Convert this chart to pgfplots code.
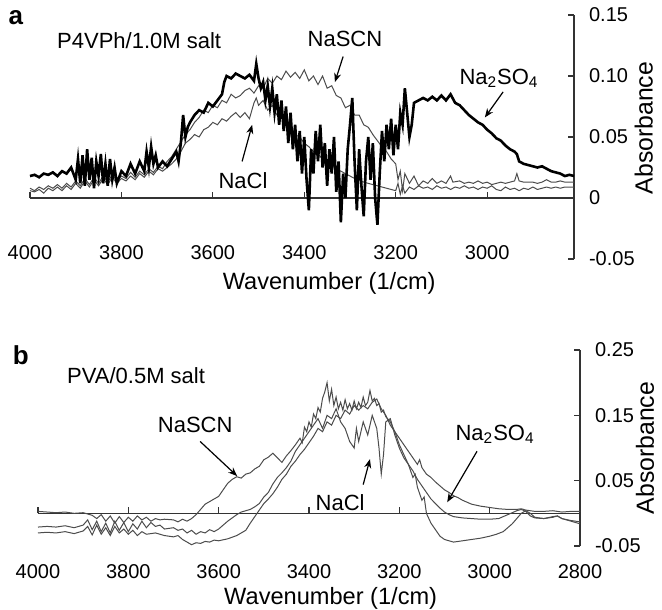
\documentclass[border=0pt]{standalone}
\usepackage{pgfplots}
\pgfplotsset{compat=1.18}
\usepackage{fontspec}
\setmainfont{Liberation Sans}
\usetikzlibrary{arrows.meta}

\pgfplotsset{
  spectrum/.style={
    scale only axis, enlargelimits=false, clip=false,
    x dir=reverse,
    axis x line=middle, axis y line=right,
    hide obscured x ticks=false, hide obscured y ticks=false,
    axis line style={-, black!80, line width=0.6pt},
    tick style={black!80, line width=0.6pt},
    tick align=inside, major tick length=3pt,
    ticklabel style={font=\fontsize{10}{11}\selectfont},
    yticklabel style={anchor=west, xshift=4pt},
    xticklabel style={anchor=center},
    xlabel style={font=\fontsize{11.8}{13}\selectfont, anchor=center},
    ylabel style={font=\fontsize{12.4}{14}\selectfont, anchor=center, rotate=0},
    xlabel={Wavenumber (1/cm)}, ylabel={Absorbance},
  },
}
\tikzset{
  lthin/.style={black!70, line width=0.5pt},
  lthick/.style={black, line width=1.3pt},
  note/.style={font=\fontsize{11}{13}\selectfont},
  arr/.style={-{Stealth[length=4.5pt, width=3.5pt]}, line width=0.6pt},
}

\begin{document}
\begin{tikzpicture}
\useasboundingbox (0,0) rectangle (331pt,-304.5pt);

% ---------------- panel a ----------------
\begin{axis}[spectrum,
  at={(15pt,-129.5pt)}, anchor=south west,
  width=272pt, height=122pt,
  xmin=2810, xmax=4000, ymin=-0.05, ymax=0.15,
  xtick={4000,3800,3600,3400,3200,3000},
  xticklabels={4000,3800,3600,3400,3200,3000},
  xticklabel style={yshift=-27.5pt},
  ytick={-0.05,0,0.05,0.1,0.15},
  yticklabels={-0.05,0,0.05,0.10,0.15},
  xlabel style={at={(axis description cs:0.55,-0.10)}},
  ylabel style={at={(axis description cs:1.128,0.537)}},
]
% NaCl
\addplot[lthin] coordinates {
(4000,0.006) (3990,0.005) (3980,0.007) (3970,0.004) (3960,0.008) (3950,0.006) (3940,0.009) (3930,0.006)
(3920,0.010) (3910,0.007) (3900,0.012) (3890,0.008) (3880,0.014) (3870,0.009) (3860,0.015) (3850,0.010)
(3840,0.016) (3830,0.011) (3820,0.017) (3810,0.012) (3800,0.016) (3790,0.014) (3780,0.018) (3770,0.015)
(3760,0.020) (3750,0.017) (3740,0.022) (3730,0.019) (3720,0.024) (3710,0.022) (3700,0.025) (3690,0.028)
(3680,0.032) (3670,0.038) (3660,0.045) (3650,0.048) (3640,0.052) (3630,0.050) (3620,0.056) (3610,0.058)
(3600,0.062) (3590,0.060) (3580,0.065) (3570,0.063) (3560,0.067) (3550,0.070) (3540,0.066) (3530,0.070)
(3520,0.065) (3510,0.078) (3505,0.082) (3500,0.076) (3490,0.080) (3480,0.072) (3470,0.076) (3460,0.068)
(3450,0.066) (3440,0.060) (3430,0.058) (3420,0.052) (3410,0.050) (3400,0.045) (3390,0.042) (3380,0.038)
(3370,0.036) (3360,0.032) (3350,0.030) (3340,0.027) (3330,0.024) (3320,0.022) (3310,0.020) (3300,0.018)
(3290,0.016) (3280,0.015) (3270,0.013) (3260,0.012) (3250,0.011) (3240,0.010) (3230,0.009) (3220,0.008)
(3210,0.007) (3200,0.006) (3195,0.012) (3190,0.003) (3185,0.010) (3180,0.004) (3170,0.009) (3160,0.007)
(3150,0.010) (3140,0.008) (3130,0.009) (3120,0.007) (3110,0.010) (3100,0.008) (3090,0.009) (3080,0.007)
(3070,0.009) (3060,0.008) (3050,0.010) (3040,0.008) (3030,0.009) (3020,0.007) (3010,0.009) (3000,0.008)
(2990,0.010) (2980,0.007) (2970,0.006) (2960,0.009) (2950,0.007) (2940,0.008) (2930,0.006) (2920,0.008)
(2910,0.007) (2900,0.009) (2890,0.007) (2880,0.008) (2870,0.009) (2860,0.008) (2850,0.009) (2840,0.008)
(2830,0.009) (2820,0.009) (2810,0.009)
};
% NaSCN
\addplot[lthin] coordinates {
(4000,0.008) (3990,0.006) (3980,0.009) (3970,0.007) (3960,0.010) (3950,0.008) (3940,0.011) (3930,0.008)
(3920,0.012) (3910,0.009) (3900,0.014) (3890,0.010) (3880,0.016) (3870,0.011) (3860,0.017) (3850,0.012)
(3840,0.018) (3830,0.013) (3820,0.019) (3810,0.014) (3800,0.018) (3790,0.016) (3780,0.021) (3770,0.017)
(3760,0.022) (3750,0.019) (3740,0.024) (3730,0.021) (3720,0.026) (3710,0.024) (3700,0.030) (3690,0.034)
(3680,0.040) (3670,0.046) (3660,0.052) (3650,0.056) (3640,0.062) (3630,0.066) (3620,0.072) (3610,0.070)
(3600,0.076) (3590,0.074) (3580,0.080) (3570,0.078) (3560,0.085) (3550,0.082) (3540,0.084) (3530,0.088)
(3520,0.090) (3510,0.086) (3500,0.092) (3490,0.090) (3480,0.098) (3470,0.094) (3460,0.100) (3450,0.097)
(3440,0.104) (3430,0.099) (3420,0.103) (3410,0.098) (3400,0.105) (3390,0.096) (3380,0.100) (3370,0.093)
(3360,0.100) (3350,0.090) (3340,0.092) (3330,0.084) (3320,0.082) (3310,0.074) (3300,0.076) (3290,0.068)
(3280,0.068) (3270,0.060) (3260,0.058) (3250,0.052) (3240,0.047) (3230,0.042) (3220,0.038) (3210,0.032)
(3200,0.028) (3195,0.015) (3190,0.022) (3185,0.006) (3180,0.020) (3170,0.012) (3160,0.018) (3150,0.010)
(3140,0.014) (3130,0.012) (3120,0.016) (3110,0.012) (3100,0.014) (3090,0.012) (3080,0.018) (3075,0.013)
(3060,0.014) (3050,0.012) (3040,0.013) (3030,0.012) (3020,0.014) (3010,0.012) (3000,0.013) (2990,0.011)
(2980,0.012) (2970,0.013) (2960,0.012) (2950,0.013) (2940,0.014) (2935,0.020) (2930,0.014) (2920,0.013)
(2900,0.013) (2890,0.012) (2880,0.013) (2870,0.015) (2860,0.013) (2850,0.013) (2840,0.014) (2830,0.013)
(2820,0.013) (2810,0.013)
};
% Na2SO4
\addplot[lthick] coordinates {
(4000,0.018) (3990,0.019) (3980,0.017) (3970,0.020) (3960,0.019) (3950,0.021) (3940,0.018) (3930,0.022)
(3920,0.020) (3910,0.025) (3900,0.015) (3895,0.032) (3890,0.012) (3885,0.035) (3880,0.010) (3875,0.040)
(3870,0.015) (3865,0.033) (3860,0.008) (3855,0.030) (3850,0.018) (3845,0.036) (3840,0.012) (3835,0.028)
(3830,0.010) (3825,0.032) (3820,0.015) (3815,0.025) (3810,0.012) (3800,0.022) (3790,0.018) (3780,0.028)
(3770,0.020) (3760,0.030) (3750,0.022) (3745,0.038) (3740,0.025) (3735,0.042) (3730,0.028) (3725,0.035)
(3720,0.025) (3710,0.030) (3700,0.026) (3690,0.032) (3680,0.038) (3675,0.030) (3670,0.045) (3665,0.068)
(3660,0.050) (3655,0.058) (3650,0.062) (3640,0.068) (3630,0.072) (3620,0.070) (3610,0.078) (3600,0.075)
(3590,0.080) (3580,0.085) (3575,0.095) (3570,0.100) (3560,0.098) (3550,0.102) (3540,0.100) (3530,0.098)
(3520,0.101) (3510,0.096) (3505,0.110) (3500,0.098) (3495,0.090) (3490,0.095) (3485,0.080) (3480,0.092)
(3475,0.075) (3470,0.090) (3465,0.070) (3460,0.085) (3455,0.060) (3450,0.080) (3445,0.055) (3440,0.075)
(3435,0.045) (3430,0.070) (3425,0.040) (3420,0.060) (3415,0.030) (3410,0.055) (3405,0.020) (3400,0.050)
(3395,0.015) (3390,-0.010) (3385,0.040) (3380,0.020) (3375,0.055) (3370,0.030) (3365,0.060) (3360,0.025)
(3355,0.045) (3350,0.010) (3345,0.040) (3340,0.020) (3335,0.050) (3330,0.005) (3325,0.030) (3320,-0.020)
(3315,0.020) (3310,0.000) (3305,0.040) (3300,0.060) (3295,0.082) (3290,0.030) (3285,-0.010) (3280,0.040)
(3275,0.010) (3270,-0.015) (3265,0.030) (3260,0.050) (3255,0.015) (3250,0.045) (3245,0.000) (3240,-0.022)
(3235,0.020) (3230,0.055) (3225,0.030) (3220,0.060) (3215,0.040) (3210,0.065) (3205,0.035) (3200,0.060)
(3195,0.040) (3190,0.070) (3185,0.060) (3180,0.090) (3175,0.070) (3170,0.050) (3165,0.060) (3160,0.078)
(3150,0.080) (3140,0.082) (3130,0.080) (3120,0.083) (3110,0.080) (3100,0.084) (3090,0.080) (3080,0.085)
(3070,0.078) (3060,0.076) (3050,0.072) (3040,0.068) (3030,0.065) (3020,0.062) (3010,0.060) (3000,0.056)
(2990,0.053) (2980,0.049) (2970,0.047) (2960,0.043) (2950,0.040) (2940,0.038) (2935,0.036) (2930,0.030)
(2920,0.028) (2910,0.027) (2900,0.026) (2890,0.025) (2880,0.026) (2870,0.024) (2860,0.022) (2850,0.021)
(2840,0.020) (2830,0.018) (2820,0.019) (2810,0.018)
};
\node[font=\bfseries\fontsize{13}{15}\selectfont] at (axis cs:4031,0.148) {a};
\node[note, anchor=west] at (axis cs:3956,0.129) {P4VPh/1.0M salt};
\node[note] at (axis cs:3311,0.130) {NaSCN};
\draw[arr] (axis cs:3315,0.116) -- (axis cs:3333,0.095);
\node[note] at (axis cs:2974,0.098) {Na\textsubscript{2}SO\textsubscript{4}};
\draw[arr] (axis cs:2965,0.087) -- (axis cs:3005,0.066);
\node[note] at (axis cs:3534,0.014) {NaCl};
\draw[arr] (axis cs:3536,0.030) -- (axis cs:3514,0.060);
\end{axis}

% ---------------- panel b ----------------
\begin{axis}[spectrum,
  at={(19pt,-273pt)}, anchor=south west,
  width=271pt, height=98pt,
  xmin=2800, xmax=4000, ymin=-0.05, ymax=0.25,
  xtick={4000,3800,3600,3400,3200,3000,2800},
  xticklabels={4000,3800,3600,3400,3200,3000,2800},
  xticklabel style={yshift=-29pt},
  ytick={-0.05,0.05,0.15,0.25},
  yticklabels={-0.05,0.05,0.15,0.25},
  xlabel style={at={(axis description cs:0.54,-0.265)}},
  ylabel style={at={(axis description cs:1.12,0.5)}},
]
% NaSCN
\addplot[lthin] coordinates {
(4000,0.003) (3980,0.002) (3960,0.001) (3940,0.002) (3920,0.000) (3900,0.001) (3880,-0.003) (3870,-0.008)
(3860,-0.002) (3850,-0.012) (3840,-0.004) (3830,-0.015) (3820,-0.005) (3810,-0.014) (3800,-0.006) (3790,-0.012)
(3780,-0.004) (3770,-0.010) (3760,-0.006) (3750,-0.012) (3740,-0.008) (3730,-0.010) (3720,-0.009) (3700,-0.010)
(3690,-0.013) (3680,-0.009) (3670,-0.012) (3660,-0.008) (3650,-0.002) (3640,0.006) (3630,0.014) (3620,0.018)
(3610,0.022) (3600,0.026) (3590,0.036) (3580,0.046) (3570,0.052) (3560,0.056) (3550,0.054) (3540,0.060)
(3530,0.062) (3520,0.068) (3510,0.072) (3500,0.082) (3490,0.086) (3480,0.092) (3470,0.085) (3460,0.078)
(3450,0.088) (3440,0.096) (3430,0.105) (3420,0.115) (3415,0.108) (3410,0.132) (3405,0.125) (3400,0.140)
(3395,0.132) (3390,0.152) (3385,0.145) (3380,0.162) (3375,0.155) (3370,0.176) (3365,0.186) (3360,0.200)
(3355,0.172) (3350,0.190) (3345,0.165) (3340,0.178) (3335,0.160) (3330,0.170) (3325,0.158) (3320,0.174)
(3315,0.160) (3310,0.168) (3305,0.158) (3300,0.172) (3295,0.160) (3290,0.170) (3285,0.162) (3280,0.178)
(3275,0.165) (3270,0.170) (3265,0.188) (3260,0.172) (3255,0.176) (3250,0.165) (3245,0.168) (3240,0.155)
(3235,0.158) (3230,0.148) (3220,0.140) (3210,0.125) (3200,0.105) (3190,0.090) (3180,0.075)
(3170,0.055) (3165,0.060) (3160,0.040) (3150,0.020) (3145,0.025) (3140,0.000) (3130,-0.015) (3120,-0.025)
(3110,-0.035) (3100,-0.040) (3090,-0.042) (3080,-0.044) (3070,-0.043) (3060,-0.042) (3040,-0.040) (3020,-0.038)
(3000,-0.035) (2985,-0.032) (2970,-0.028) (2960,-0.022) (2950,-0.016) (2940,-0.008) (2930,0.000) (2920,0.004)
(2910,0.000) (2900,-0.006) (2880,-0.008) (2860,-0.006) (2850,-0.004) (2840,-0.008) (2820,-0.012) (2800,-0.016)
};
% NaCl
\addplot[lthin] coordinates {
(4000,-0.021) (3980,-0.020) (3960,-0.021) (3940,-0.019) (3920,-0.022) (3900,-0.018) (3890,-0.010) (3880,-0.025)
(3870,-0.012) (3860,-0.028) (3850,-0.015) (3840,-0.030) (3830,-0.012) (3820,-0.026) (3810,-0.014) (3800,-0.028)
(3790,-0.016) (3780,-0.024) (3770,-0.012) (3760,-0.022) (3750,-0.014) (3740,-0.020) (3730,-0.018) (3720,-0.024)
(3700,-0.022) (3690,-0.026) (3680,-0.024) (3670,-0.030) (3660,-0.026) (3650,-0.032) (3640,-0.028) (3630,-0.030)
(3620,-0.025) (3610,-0.028) (3600,-0.024) (3590,-0.018) (3580,-0.012) (3570,-0.007) (3560,-0.002) (3550,0.002)
(3540,0.004) (3530,0.006) (3520,0.010) (3510,0.015) (3500,0.025) (3490,0.032) (3480,0.045) (3470,0.055)
(3460,0.062) (3450,0.070) (3440,0.080) (3430,0.095) (3420,0.105) (3410,0.115) (3400,0.125) (3390,0.135)
(3380,0.145) (3370,0.130) (3360,0.150) (3350,0.145) (3340,0.160) (3330,0.140) (3320,0.130) (3310,0.110)
(3300,0.100) (3295,0.130) (3290,0.110) (3280,0.140) (3270,0.120) (3260,0.150) (3250,0.130) (3245,0.100)
(3240,0.060) (3235,0.090) (3230,0.140) (3220,0.145) (3210,0.120) (3200,0.100) (3190,0.085) (3180,0.075)
(3170,0.065) (3160,0.052) (3150,0.042) (3140,0.032) (3130,0.022) (3120,0.015) (3110,0.008) (3100,0.002)
(3090,-0.002) (3080,-0.005) (3060,-0.007) (3040,-0.008) (3020,-0.009) (3000,-0.009) (2980,-0.008) (2960,-0.002)
(2950,0.001) (2940,0.004) (2930,0.006) (2920,0.003) (2910,-0.004) (2900,-0.007) (2880,-0.008) (2860,-0.005)
(2850,-0.004) (2840,-0.008) (2820,-0.011) (2800,-0.013)
};
% Na2SO4
\addplot[lthin] coordinates {
(4000,-0.030) (3980,-0.029) (3960,-0.030) (3940,-0.028) (3920,-0.031) (3900,-0.027) (3890,-0.020) (3880,-0.033)
(3870,-0.018) (3860,-0.032) (3850,-0.022) (3840,-0.034) (3830,-0.020) (3820,-0.030) (3810,-0.024) (3800,-0.032)
(3790,-0.026) (3780,-0.034) (3770,-0.028) (3760,-0.032) (3740,-0.030) (3720,-0.034) (3700,-0.036) (3690,-0.034)
(3680,-0.040) (3670,-0.044) (3660,-0.048) (3650,-0.045) (3640,-0.046) (3630,-0.043) (3620,-0.044) (3610,-0.041)
(3600,-0.042) (3580,-0.039) (3560,-0.034) (3540,-0.026) (3530,-0.015) (3520,-0.005) (3510,0.005) (3500,0.015)
(3490,0.022) (3480,0.030) (3470,0.040) (3460,0.052) (3450,0.060) (3440,0.072) (3430,0.080) (3420,0.090)
(3410,0.098) (3400,0.108) (3390,0.118) (3380,0.130) (3370,0.125) (3360,0.140) (3350,0.135) (3340,0.150)
(3330,0.145) (3320,0.158) (3310,0.152) (3300,0.165) (3290,0.158) (3280,0.165) (3270,0.160) (3260,0.170)
(3250,0.175) (3240,0.160) (3230,0.150) (3220,0.135) (3210,0.125) (3200,0.115) (3190,0.105) (3180,0.095)
(3170,0.085) (3160,0.075) (3155,0.082) (3150,0.070) (3140,0.060) (3130,0.055) (3120,0.048) (3110,0.042)
(3100,0.036) (3090,0.032) (3080,0.027) (3070,0.024) (3060,0.020) (3050,0.017) (3040,0.014) (3020,0.011)
(3000,0.009) (2980,0.007) (2960,0.006) (2940,0.006) (2930,0.007) (2920,0.005) (2900,0.003) (2880,0.003)
(2860,0.004) (2840,0.002) (2820,0.003) (2800,0.003)
};
\node[font=\bfseries\fontsize{13}{15}\selectfont] at (axis cs:4038,0.242) {b};
\node[note, anchor=west] at (axis cs:3951,0.211) {PVA/0.5M salt};
\node[note] at (axis cs:3652,0.136) {NaSCN};
\draw[arr] (axis cs:3641,0.110) -- (axis cs:3559,0.057);
\node[note] at (axis cs:3331,0.017) {NaCl};
\draw[arr] (axis cs:3280,0.044) -- (axis cs:3265,0.083);
\node[note] at (axis cs:2988,0.121) {Na\textsubscript{2}SO\textsubscript{4}};
\draw[arr] (axis cs:3028,0.095) -- (axis cs:3094,0.017);
\end{axis}
\end{tikzpicture}
\end{document}
